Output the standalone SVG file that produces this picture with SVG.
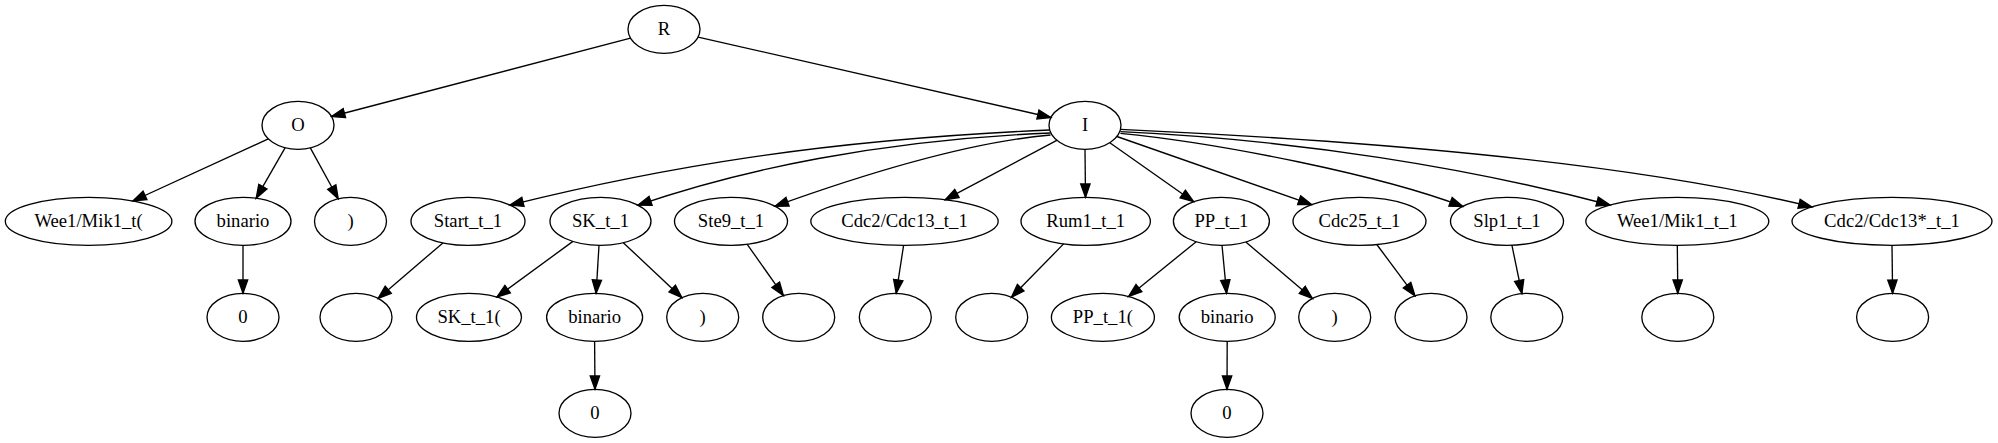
<svg xmlns="http://www.w3.org/2000/svg" width="1998" height="443" viewBox="0 0 1998 443">
<style>
.n ellipse{fill:none;stroke:#000;stroke-width:1.33}
.n text{font-family:"Liberation Serif","Times New Roman",serif;font-size:18.67px;text-anchor:middle;fill:#000}
#edges path{fill:none;stroke:#000;stroke-width:1.33;marker-end:url(#arr)}
</style>
<defs>
<marker id="arr" markerUnits="userSpaceOnUse" markerWidth="16" markerHeight="12" refX="13.33" refY="5" orient="auto" viewBox="-1 0 16 10">
<path d="M0,0.33 L13.33,5 L0,9.67 Z" fill="#000" stroke="#000" stroke-width="1.33"/>
</marker>
</defs>
<rect width="1998" height="443" fill="#fff"/>
<g id="edges">
<path d="M630.5,38.1 L331.5,116.5"/>
<path d="M698.1,37.1 L1050.9,117.5"/>
<path d="M268.3,138.9 L132.9,201"/>
<path d="M285.2,147.7 L256.2,198.2"/>
<path d="M310.3,147.9 L338.2,198.8"/>
<path d="M243,245.3 L243,293.3"/>
<path d="M1050,130 C820,140 660,168 510,205.1"/>
<path d="M1050.5,133 C880,140 740,170 638,205.2"/>
<path d="M1050.5,135 C970,142 870,172 775,206.2"/>
<path d="M1056.8,140.3 L945.2,199.7"/>
<path d="M1085,149.3 L1085.5,197.3"/>
<path d="M1109.8,142.7 L1193.6,201.7"/>
<path d="M1116.9,136.5 L1311.7,204.6"/>
<path d="M1120.4,133.3 C1220,143 1380,175 1463,206.5"/>
<path d="M1120.4,131.7 C1300,140 1470,168 1610,205"/>
<path d="M1120.4,129.3 C1350,140 1620,160 1812,206.9"/>
<path d="M442.9,242.9 L378.1,298.4"/>
<path d="M572.9,241.4 L496.9,297"/>
<path d="M599,245.3 L596.1,293.3"/>
<path d="M623.3,242.7 L681.9,297.7"/>
<path d="M594.6,341.3 L595,389.3"/>
<path d="M747.2,244.3 L783.4,295.6"/>
<path d="M903.6,245.3 L896.2,293.3"/>
<path d="M1063.6,243.9 L1011.4,297.2"/>
<path d="M1196.2,241.7 L1128.6,296.5"/>
<path d="M1222,245.3 L1226.6,293.3"/>
<path d="M1245.8,242 L1312.4,298.4"/>
<path d="M1227.2,341.3 L1227,389.3"/>
<path d="M1376.8,244.5 L1415,295.8"/>
<path d="M1511.9,245.2 L1521.9,293.5"/>
<path d="M1677.3,245.3 L1677.8,293.3"/>
<path d="M1892,245.3 L1892.6,293.3"/>
</g>
<g id="R" class="n"><ellipse cx="664" cy="29.3" rx="36" ry="24"/><text x="664" y="34.6">R</text></g>
<g id="O" class="n"><ellipse cx="298" cy="125.3" rx="36" ry="24"/><text x="298" y="130.6">O</text></g>
<g id="I" class="n"><ellipse cx="1085" cy="125.3" rx="36" ry="24"/><text x="1085" y="130.6">I</text></g>
<g id="wee1_t" class="n"><ellipse cx="88.6" cy="221.3" rx="83.3" ry="24"/><text x="88.6" y="226.6">Wee1/Mik1_t(</text></g>
<g id="binario_o" class="n"><ellipse cx="243" cy="221.3" rx="48" ry="24"/><text x="243" y="226.6">binario</text></g>
<g id="close_o" class="n"><ellipse cx="350.5" cy="221.3" rx="36" ry="24"/><text x="350.5" y="226.6">)</text></g>
<g id="start" class="n"><ellipse cx="468" cy="221.3" rx="57" ry="24"/><text x="468" y="226.6">Start_t_1</text></g>
<g id="sk" class="n"><ellipse cx="600.5" cy="221.3" rx="50.5" ry="24"/><text x="600.5" y="226.6">SK_t_1</text></g>
<g id="ste9" class="n"><ellipse cx="731" cy="221.3" rx="56.5" ry="24"/><text x="731" y="226.6">Ste9_t_1</text></g>
<g id="cdc2" class="n"><ellipse cx="904.5" cy="221.3" rx="93.7" ry="24"/><text x="904.5" y="226.6">Cdc2/Cdc13_t_1</text></g>
<g id="rum1" class="n"><ellipse cx="1085.7" cy="221.3" rx="64.7" ry="24"/><text x="1085.7" y="226.6">Rum1_t_1</text></g>
<g id="pp" class="n"><ellipse cx="1221.4" cy="221.3" rx="48" ry="24"/><text x="1221.4" y="226.6">PP_t_1</text></g>
<g id="cdc25" class="n"><ellipse cx="1359.5" cy="221.3" rx="66.5" ry="24"/><text x="1359.5" y="226.6">Cdc25_t_1</text></g>
<g id="slp1" class="n"><ellipse cx="1507" cy="221.3" rx="56.5" ry="24"/><text x="1507" y="226.6">Slp1_t_1</text></g>
<g id="wee1" class="n"><ellipse cx="1677.3" cy="221.3" rx="91.5" ry="24"/><text x="1677.3" y="226.6">Wee1/Mik1_t_1</text></g>
<g id="cdc2s" class="n"><ellipse cx="1892" cy="221.3" rx="100" ry="24"/><text x="1892" y="226.6">Cdc2/Cdc13*_t_1</text></g>
<g id="zero_o" class="n"><ellipse cx="243" cy="317.3" rx="36" ry="24"/><text x="243" y="322.6">0</text></g>
<g id="e_start" class="n"><ellipse cx="356" cy="317.3" rx="36" ry="24"/></g>
<g id="sk_open" class="n"><ellipse cx="469" cy="317.3" rx="52.5" ry="24"/><text x="469" y="322.6">SK_t_1(</text></g>
<g id="binario_sk" class="n"><ellipse cx="594.6" cy="317.3" rx="48" ry="24"/><text x="594.6" y="322.6">binario</text></g>
<g id="close_sk" class="n"><ellipse cx="702.7" cy="317.3" rx="36" ry="24"/><text x="702.7" y="322.6">)</text></g>
<g id="e_ste9" class="n"><ellipse cx="798.7" cy="317.3" rx="36" ry="24"/></g>
<g id="e_cdc2" class="n"><ellipse cx="895.3" cy="317.3" rx="36" ry="24"/></g>
<g id="e_rum1" class="n"><ellipse cx="991.7" cy="317.3" rx="36" ry="24"/></g>
<g id="pp_open" class="n"><ellipse cx="1102.9" cy="317.3" rx="51.5" ry="24"/><text x="1102.9" y="322.6">PP_t_1(</text></g>
<g id="binario_pp" class="n"><ellipse cx="1227.2" cy="317.3" rx="48" ry="24"/><text x="1227.2" y="322.6">binario</text></g>
<g id="close_pp" class="n"><ellipse cx="1334.7" cy="317.3" rx="36" ry="24"/><text x="1334.7" y="322.6">)</text></g>
<g id="e_cdc25" class="n"><ellipse cx="1431" cy="317.3" rx="36" ry="24"/></g>
<g id="e_slp1" class="n"><ellipse cx="1526.8" cy="317.3" rx="36" ry="24"/></g>
<g id="e_wee1" class="n"><ellipse cx="1677.8" cy="317.3" rx="36" ry="24"/></g>
<g id="e_cdc2s" class="n"><ellipse cx="1892.6" cy="317.3" rx="36" ry="24"/></g>
<g id="zero_sk" class="n"><ellipse cx="595" cy="413.3" rx="36" ry="24"/><text x="595" y="418.6">0</text></g>
<g id="zero_pp" class="n"><ellipse cx="1227" cy="413.3" rx="36" ry="24"/><text x="1227" y="418.6">0</text></g>
</svg>
